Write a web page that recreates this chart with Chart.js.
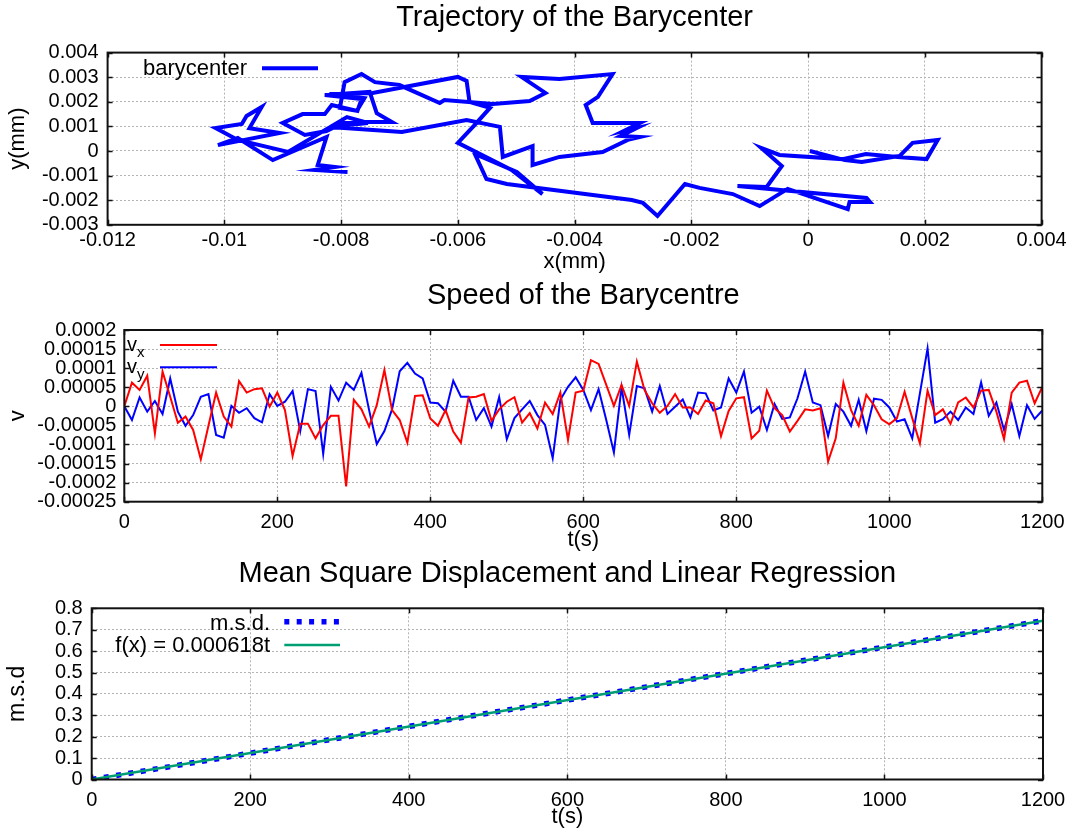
<!DOCTYPE html>
<html>
<head>
<meta charset="utf-8">
<title>Barycenter</title>
<script src="https://cdn.jsdelivr.net/npm/chart.js@4.4.0/dist/chart.umd.min.js"></script>
<style>
  html, body { margin: 0; padding: 0; background: #fff; }
  #wrap { position: relative; width: 1076px; height: 831px; }
  #wrap canvas { position: absolute; left: 0; top: 0; }
</style>
</head>
<body>
<div id="wrap">
  <canvas id="chart1" width="1076" height="831"></canvas>
  <canvas id="chart2" width="1076" height="831"></canvas>
  <canvas id="chart3" width="1076" height="831"></canvas>
</div>
<script>
/*Trajectory of the barycenter (mm)*/
var trajX = [0.00003, 0.00063, 0.00092, 0.00157, 0.00179, 0.00222, 0.00203, 0.00153, 0.00099, 0.00059,
             -0.00049, -0.0008, -0.00045, -0.00071, -0.00121, 0.001, 0.00106, 0.00071, 0.00068, -0.00035,
             -0.00083, -0.00129, -0.00186, -0.00211, -0.00258, -0.00283, -0.00302, -0.00516, -0.00551, -0.00571,
             -0.00499, -0.00455, -0.00508, -0.006, -0.00571, -0.00545, -0.0058, -0.00585, -0.006, -0.00746,
             -0.0082, -0.0076, -0.00773, -0.00802, -0.00794, -0.00765, -0.00742, -0.007, -0.00631, -0.00623,
             -0.0054, -0.00477, -0.0045, -0.00491, -0.00426, -0.00335, -0.0036, -0.00381, -0.00369, -0.00288,
             -0.00316, -0.00294, -0.00321, -0.00288, -0.00309, -0.00352, -0.00426, -0.00472, -0.00472, -0.00523,
             -0.00528, -0.00585, -0.00696, -0.0082, -0.00754, -0.00797, -0.00825, -0.00862, -0.009, -0.00866,
             -0.00828, -0.00816, -0.00772, -0.00765, -0.00828, -0.00751, -0.00739, -0.00713, -0.0076, -0.0079,
             -0.00891, -0.00977, -0.01015, -0.0097, -0.00962, -0.00936, -0.00957, -0.00905, -0.01011, -0.00977,
             -0.00917, -0.00825, -0.0084, -0.00811, -0.00845, -0.00789];
var trajY = [0, -0.00037, -0.00045, -0.0002, 0.00033, 0.00045, -0.00033, -0.00024, -0.00012, -0.00033,
             -0.00016, 0.00012, -0.00061, -0.00146, -0.00142, -0.00191, -0.00207, -0.00207, -0.00236, -0.00154,
             -0.00224, -0.00175, -0.0015, -0.00134, -0.00264, -0.00211, -0.00199, -0.00134, -0.00114, -0.00012,
             -0.00085, -0.00175, -0.00077, 0.00033, 0.00106, 0.00175, 0.00199, 0.00285, 0.00301, 0.00236,
             0.00232, 0.00215, 0.00163, 0.00175, 0.0028, 0.00313, 0.0028, 0.00268, 0.00195, 0.00207,
             0.00191, 0.00203, 0.00236, 0.00301, 0.00293, 0.00313, 0.0022, 0.00187, 0.00114, 0.00114,
             0.00081, 0.00093, 0.00061, 0.00057, 0.00045, -0.00004, -0.00024, -0.00057, 0.0002, -0.00024,
             0.00098, 0.00126, 0.00077, 0.00098, 0.00114, 0.00114, 0.00081, 0.00065, 0.00114, 0.0015,
             0.0015, 0.00187, 0.00163, 0.00211, 0.00228, 0.0024, 0.00154, 0.00118, 0.00118, 0.00138,
             -0.00004, 0.00045, 0.00093, 0.0011, 0.00142, 0.00179, 0.00093, 0.00073, 0.00024, 0.00053,
             -0.00037, 0.00057, -0.00057, -0.00065, -0.00077, -0.00085];

/*Speed components, one sample every 10 s, in units of 1e-5*/
var speedStep = 10;
var speedUnit = 1e-5;
var vx = [0, 6.2, 4.3, 8.0, -7.1, 9.1, 2.5, -4.3, -2.7, -6.2,
          -13.9, -5.1, 3.6, -2.7, -5.3, 6.6, 3.6, 4.5, 4.7, -0.1,
          3.6, -1.0, -13.0, -4.6, -4.6, -8.4, -4.9, -2.5, -2.5, -21.0,
          1.7, -0.8, -5.3, 0.3, 9.5, -1.0, -3.6, -9.5, 2.7, 2.9,
          -3.2, -5.1, -1.0, -6.6, -9.5, 2.3, 2.5, 3.2, -3.8, -0.8,
          1.2, 2.4, -4.3, -1.8, -5.8, 1.0, -2.0, 3.6, -8.8, 3.6,
          4.1, 12.1, 11.1, 5.6, 0.1, 5.6, 0.1, 11.7, 4.3, 0.8,
          -1.7, 0.1, 3.2, -0.3, -0.3, -2.0, 1.5, 0.8, -7.8, -1.2,
          2.1, 2.4, -8.4, -6.4, 4.1, -0.5, -2.3, -6.6, -3.8, -0.8,
          -1.1, -0.5, -14.5, -8.4, 6.2, -1.0, -5.1, 3.0, 0.3, -3.4,
          -4.7, -3.1, 3.8, -3.1, -9.7, 4.1, -2.3, -0.8, -4.6, 1.0,
          2.3, -0.3, 4.1, 4.3, -1.4, -8.6, 3.6, 6.2, 6.7, 0.8,
          5.1];
var vy = [0, -3.6, 2.3, -1.4, 1.4, -2.0, 7.3, -1.4, -5.1, -2.3,
          2.5, 3.2, -7.5, -8.2, 0.1, -1.7, -0.5, -3.1, -4.2, 3.2,
          0.1, 1.2, 4.0, -6.5, 4.5, 4.0, -12.5, 5.1, 1.5, 6.2,
          4.3, 8.8, -1.0, -9.9, -6.5, -0.8, 9.2, 11.4, 8.6, 7.3,
          1.0, 0.8, -1.4, 6.7, 2.5, 2.5, -3.6, -0.5, -5.3, 2.4,
          -8.6, -3.1, -0.8, 1.4, -2.3, -4.9, -13.6, 1.7, 5.1, 7.6,
          4.3, -1.0, 4.5, -3.6, -12.1, 5.0, -7.5, 5.3, 4.7, -1.4,
          5.3, -2.0, -0.1, 1.8, -2.9, 3.6, 3.4, -1.1, -0.3, 7.3,
          3.6, 9.1, -1.7, -0.1, -6.2, 0.6, -3.3, -2.9, 2.1, 9.1,
          1.0, 0.3, -7.8, 0.6, -1.4, -5.1, 1.7, -6.5, 2.0, 1.7,
          -0.3, -4.0, -3.4, -8.4, 3.4, 15.2, -4.3, -3.4, -1.4, -3.6,
          -0.3, -2.0, 6.3, -2.5, 1.0, -6.2, 0.6, -7.8, 0.3, -3.3,
          -1.1];

/*Mean square displacement*/
var msdT = [0, 100, 200, 300, 400, 500, 600, 700, 800, 900, 1000, 1100, 1200];
var msd = [0, 0.061, 0.123, 0.186, 0.248, 0.310, 0.371, 0.433, 0.495, 0.557, 0.619, 0.680, 0.742];
var fitSlope = 0.000618;
var fitRange = [0, 1200];

var FONT = '"Liberation Sans", Arial, Helvetica, sans-serif';
Chart.defaults.font.family = FONT;
Chart.defaults.color = '#000';
Chart.defaults.animation = false;

/*Utils*/
function tickLabel(value) {
    return String(parseFloat(value.toFixed(6)));
}
function toPoints(xs, ys, scale) {
    return xs.map(function (x, i) { return {x: x, y: ys[i] * (scale || 1)}; });
}
function timeAxis(values) {
    return values.map(function (v, i) { return i * speedStep; });
}
function axis(o) {
    return {
        type: 'linear',
        min: o.min,
        max: o.max,
        grid: {color: '#b4b4b4', lineWidth: 1, drawTicks: false},
        border: {display: false, dash: [2, 2]},
        ticks: {stepSize: o.step, padding: o.pad, autoSkip: false, maxRotation: 0, minRotation: 0,
                font: {size: 20}, color: '#000', callback: tickLabel},
        title: {display: true, text: o.title, font: {size: o.titleSize || 22}, color: '#000', padding: o.titlePad},
        afterFit: function (scale) {
            if (scale.isHorizontal()) scale.height = o.size;
            else scale.width = o.size;
        }
    };
}
function titleOpts(text, top, bottom) {
    return {display: true, text: text, fullSize: false, color: '#000',
            font: {size: 29, weight: 'normal'}, padding: {top: top, bottom: bottom}};
}

/*Box around the plot with inward tick marks on every side*/
var framePlugin = {
    id: 'frame',
    afterDatasetsDraw: function (chart) {
        var a = chart.chartArea, ctx = chart.ctx, len = 5;
        var sx = chart.scales.x, sy = chart.scales.y;
        ctx.save();
        ctx.strokeStyle = '#111';
        ctx.lineWidth = 1.5;
        ctx.setLineDash([]);
        ctx.beginPath();
        sx.ticks.forEach(function (t) {
            var p = Math.round(sx.getPixelForValue(t.value)) + 0.5;
            ctx.moveTo(p, a.bottom); ctx.lineTo(p, a.bottom - len);
            ctx.moveTo(p, a.top); ctx.lineTo(p, a.top + len);
        });
        sy.ticks.forEach(function (t) {
            var p = Math.round(sy.getPixelForValue(t.value)) + 0.5;
            ctx.moveTo(a.left, p); ctx.lineTo(a.left + len, p);
            ctx.moveTo(a.right, p); ctx.lineTo(a.right - len, p);
        });
        ctx.stroke();
        ctx.lineWidth = 2;
        ctx.strokeRect(a.left, a.top, a.right - a.left, a.bottom - a.top);
        ctx.restore();
    }
};

/*Key: label first, line sample after it*/
var keyPlugin = {
    id: 'key',
    afterDatasetsDraw: function (chart, args, opts) {
        if (!opts || !opts.items) return;
        var ctx = chart.ctx;
        ctx.save();
        opts.items.forEach(function (it) {
            var size = it.size || 22;
            ctx.fillStyle = '#000';
            ctx.textBaseline = 'alphabetic';
            ctx.textAlign = 'left';
            ctx.font = size + 'px ' + FONT;
            var w = ctx.measureText(it.text).width;
            var subW = 0;
            if (it.sub) {
                ctx.font = it.subSize + 'px ' + FONT;
                subW = ctx.measureText(it.sub).width;
            }
            var x0 = it.left != null ? it.left : it.right - w - subW;
            ctx.font = size + 'px ' + FONT;
            ctx.fillText(it.text, x0, it.base);
            if (it.sub) {
                ctx.font = it.subSize + 'px ' + FONT;
                ctx.fillText(it.sub, x0 + w, it.base + it.subShift);
            }
            var ds = chart.data.datasets[it.ds];
            ctx.strokeStyle = ds.borderColor;
            ctx.lineWidth = ds.borderWidth;
            ctx.lineCap = 'butt';
            ctx.setLineDash(ds.borderDash || []);
            ctx.beginPath();
            ctx.moveTo(it.x1, it.lineY);
            ctx.lineTo(it.x2, it.lineY);
            ctx.stroke();
        });
        ctx.restore();
    }
};

Chart.register(framePlugin, keyPlugin);

/*Chart 1 - Trajectory*/
new Chart(document.getElementById('chart1'), {
    type: 'scatter',
    data: {
        datasets: [{
            label: 'barycenter',
            data: toPoints(trajX, trajY),
            showLine: true,
            borderColor: '#0000ff',
            borderWidth: 4,
            pointRadius: 0,
            tension: 0,
            borderJoinStyle: 'miter'
        }]
    },
    options: {
        responsive: false,
        events: [],
        layout: {padding: {left: 0, right: 34.4, top: 0, bottom: 556.2}},
        scales: {
            x: axis({min: -0.012, max: 0.004, step: 0.002, pad: 4, size: 50,
                     title: 'x(mm)', titlePad: {top: 0, bottom: 0}}),
            y: axis({min: -0.003, max: 0.004, step: 0.001, pad: 9, size: 107.6,
                     title: 'y(mm)', titlePad: {top: 4.8, bottom: 0}})
        },
        plugins: {
            legend: {display: false},
            tooltip: {enabled: false},
            title: titleOpts('Trajectory of the Barycenter', 0.6, 17.2),
            key: {items: [
                {text: 'barycenter', ds: 0, right: 247, base: 75, x1: 262, x2: 318, lineY: 68.3}
            ]}
        }
    }
});

/*Chart 2 - Speed*/
new Chart(document.getElementById('chart2'), {
    type: 'scatter',
    data: {
        datasets: [{
            label: 'vx',
            data: toPoints(timeAxis(vx), vx, speedUnit),
            showLine: true,
            borderColor: '#ff0000',
            borderWidth: 2,
            pointRadius: 0,
            tension: 0
        }, {
            label: 'vy',
            data: toPoints(timeAxis(vy), vy, speedUnit),
            showLine: true,
            borderColor: '#0000ff',
            borderWidth: 2,
            pointRadius: 0,
            tension: 0
        }]
    },
    options: {
        responsive: false,
        events: [],
        layout: {padding: {left: 0, right: 33.7, top: 270, bottom: 277.3}},
        scales: {
            x: axis({min: 0, max: 1200, step: 200, pad: 8.3, size: 52,
                     title: 't(s)', titlePad: {top: 0, bottom: 0.5}}),
            y: axis({min: -0.00025, max: 0.0002, step: 0.00005, pad: 8, size: 124.3,
                     title: 'v', titlePad: {top: 4.8, bottom: 0}})
        },
        plugins: {
            legend: {display: false},
            tooltip: {enabled: false},
            title: titleOpts('Speed of the Barycentre', 9, 16.2),
            key: {items: [
                {text: 'v', sub: 'x', subSize: 15, subShift: 6, size: 20, ds: 0, left: 127, base: 350.7,
                 x1: 160, x2: 217, lineY: 345},
                {text: 'v', sub: 'y', subSize: 15, subShift: 6, size: 20, ds: 1, left: 127, base: 372.7,
                 x1: 160, x2: 217, lineY: 367.3}
            ]}
        }
    }
});

/*Chart 3 - Mean square displacement and fit*/
new Chart(document.getElementById('chart3'), {
    type: 'scatter',
    data: {
        datasets: [{
            label: 'm.s.d.',
            data: toPoints(msdT, msd),
            showLine: true,
            borderColor: '#0000ff',
            borderWidth: 5.5,
            borderDash: [5, 7.4],
            borderCapStyle: 'butt',
            pointRadius: 0,
            tension: 0,
            order: 1
        }, {
            label: 'f(x) = 0.000618t',
            data: fitRange.map(function (t) { return {x: t, y: fitSlope * t}; }),
            showLine: true,
            borderColor: '#009e73',
            borderWidth: 2.5,
            pointRadius: 0,
            tension: 0,
            order: 0
        }]
    },
    options: {
        responsive: false,
        events: [],
        layout: {padding: {left: 0, right: 33, top: 550, bottom: 0}},
        scales: {
            x: axis({min: 0, max: 1200, step: 200, pad: 8.5, size: 51.5,
                     title: 't(s)', titlePad: {top: 0, bottom: 0.8}}),
            y: axis({min: 0, max: 0.8, step: 0.1, pad: 9, size: 91.7, titleSize: 23,
                     title: 'm.s.d', titlePad: {top: 4.2, bottom: 0}})
        },
        plugins: {
            legend: {display: false},
            tooltip: {enabled: false},
            title: titleOpts('Mean Square Displacement and Linear Regression', 6.6, 16.9),
            key: {items: [
                {text: 'm.s.d.', ds: 0, right: 270, base: 630, x1: 284.3, x2: 340, lineY: 621.7},
                {text: 'f(x) = 0.000618t', ds: 1, right: 270, base: 651.7, x1: 284.3, x2: 340, lineY: 645}
            ]}
        }
    }
});
</script>
</body>
</html>
